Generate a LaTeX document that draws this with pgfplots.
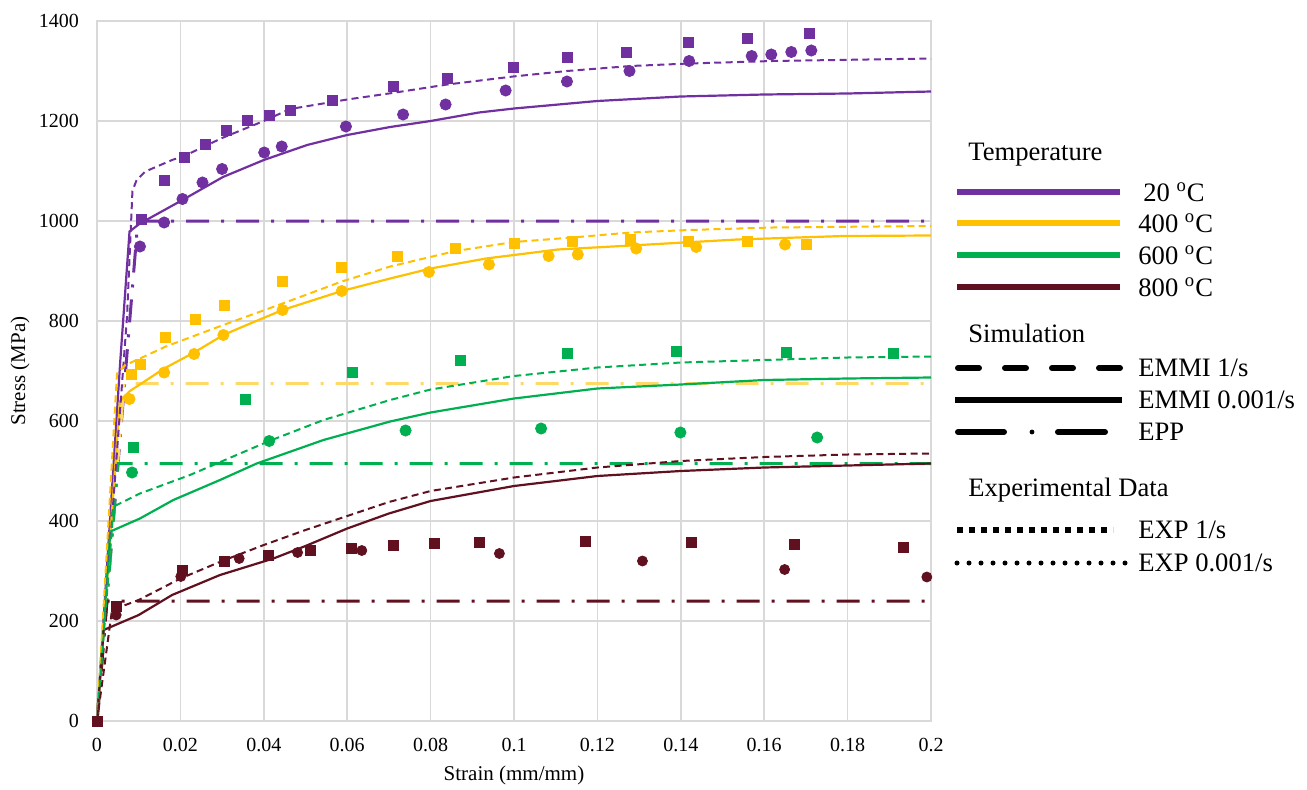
\documentclass[border=0pt]{standalone}
\usepackage{pgfplots}
\pgfplotsset{compat=1.18}
\usepackage{fontspec}
\setmainfont{Liberation Serif}

\definecolor{cpurple}{HTML}{7030A0}
\definecolor{cyellow}{HTML}{FFC000}
\definecolor{cyellowl}{HTML}{FFD966}
\definecolor{cgreen}{HTML}{00B050}
\definecolor{cbrown}{RGB}{96,16,30}
\definecolor{cgrid}{HTML}{D9D9D9}

\pgfplotsset{
  emmifast/.style={no markers, line width=1pt, dash pattern=on 3.5pt off 2.2pt},
  emmislow/.style={no markers, line width=1.1pt},
  epp/.style={no markers, line width=1.5pt, dash pattern=on 11.5pt off 6pt on 1.5pt off 6pt},
  expfast/.style={only marks, mark=square*, mark size=2.5pt},
  expslow/.style={only marks, mark=*, mark size=2.8pt},
}

\begin{document}
\begin{tikzpicture}
\begin{axis}[
  scale only axis,
  width=417pt, height=350pt,
  xmin=0, xmax=0.2, ymin=0, ymax=1400,
  xtick={0,0.02,0.04,0.06,0.08,0.1,0.12,0.14,0.16,0.18,0.2},
  xticklabels={0,0.02,0.04,0.06,0.08,0.1,0.12,0.14,0.16,0.18,0.2},
  ytick={0,200,400,600,800,1000,1200,1400},
  /pgf/number format/1000 sep={},
  /pgf/number format/assume math mode=true,
  scaled x ticks=false,
  grid=major,
  major grid style={draw=cgrid, line width=0.8pt},
  axis line style={draw=cgrid, line width=0.8pt},
  tick style={draw=none},
  ticklabel style={font=\fontsize{10}{12}\selectfont},
  yticklabel style={xshift=-5.5pt},
  xticklabel style={yshift=-5pt},
  xlabel={Strain (mm/mm)},
  ylabel={Stress (MPa)},
  label style={font=\fontsize{10.5}{12}\selectfont},
  xlabel style={at={(axis description cs:0.5,0)}, anchor=center, yshift=-27pt},
  ylabel style={at={(axis description cs:0,0.5)}, anchor=center, rotate=0, yshift=38.5pt},
]
% ---- EPP
\addplot[epp, cpurple] coordinates {(0,0) (0.0098,1000) (0.2,1000)};
\addplot[epp, cyellowl] coordinates {(0,0) (0.0065,675) (0.2,675)};
\addplot[epp, cgreen] coordinates {(0,0) (0.005,515) (0.2,515)};
\addplot[epp, cbrown] coordinates {(0,0) (0.0024,240) (0.2,240)};
% ---- EMMI 0.001/s
\addplot[emmislow, cpurple] coordinates {
  (0,0) (0.0056,722) (0.0078,979) (0.0103,995) (0.0205,1042) (0.0302,1088)
  (0.04,1122) (0.0504,1152) (0.06,1172) (0.0703,1188) (0.08,1200) (0.0916,1217)
  (0.1,1225) (0.12,1240) (0.14,1249) (0.16,1253) (0.18,1255) (0.2,1259)};
\addplot[emmislow, cyellow] coordinates {
  (0,0) (0.0055,640) (0.0064,648) (0.0079,660) (0.0161,705) (0.0233,737)
  (0.0303,772) (0.0359,792) (0.0445,822) (0.0587,860) (0.0703,885) (0.08,905)
  (0.0933,925) (0.1105,943) (0.128,951) (0.1535,963) (0.179,970) (0.2,971)};
\addplot[emmislow, cgreen] coordinates {
  (0,0) (0.0032,379) (0.0103,405) (0.0183,442) (0.0295,482) (0.0383,515)
  (0.0543,562) (0.0703,599) (0.08,617) (0.1,645) (0.12,665) (0.14,673)
  (0.16,682) (0.18,685) (0.2,687)};
\addplot[emmislow, cbrown] coordinates {
  (0,0) (0.0016,182) (0.01,212) (0.018,252) (0.0295,292) (0.0423,325)
  (0.05,350) (0.06,385) (0.07,415) (0.08,440) (0.1,470) (0.12,490)
  (0.14,500) (0.16,507) (0.18,511) (0.2,515)};
% ---- EMMI 1/s
\addplot[emmifast, cpurple] coordinates {
  (0,0) (0.0072,809) (0.0085,1060) (0.0095,1082) (0.0116,1099) (0.018,1122)
  (0.0209,1130) (0.03,1166) (0.04,1200) (0.0463,1224) (0.06,1243) (0.07,1255)
  (0.084,1273) (0.0998,1289) (0.1127,1300) (0.128,1310) (0.142,1315)
  (0.162,1320) (0.2,1325)};
\addplot[emmifast, cyellow] coordinates {
  (0,0) (0.0048,695) (0.0068,712) (0.0103,725) (0.0165,749) (0.0303,792)
  (0.0445,835) (0.0587,879) (0.0703,909) (0.086,940) (0.1,958) (0.114,967)
  (0.128,977) (0.142,982) (0.162,987) (0.2,990)};
\addplot[emmifast, cgreen] coordinates {
  (0,0) (0.004,429) (0.0103,455) (0.0223,492) (0.0413,560) (0.0543,602)
  (0.0703,642) (0.08,663) (0.1,690) (0.12,707) (0.14,717) (0.16,722)
  (0.18,727) (0.2,729)};
\addplot[emmifast, cbrown] coordinates {
  (0,0) (0.0036,222) (0.01,242) (0.02,285) (0.03,320) (0.04,352) (0.05,382)
  (0.06,410) (0.07,438) (0.08,460) (0.1,487) (0.12,507) (0.14,520)
  (0.16,528) (0.18,533) (0.2,535)};
% ---- EXP 1/s
\addplot[expfast, cpurple] coordinates {
  (0.0107,1004) (0.0161,1081) (0.0209,1127) (0.0261,1154) (0.0311,1182)
  (0.0361,1202) (0.0413,1211) (0.0463,1222) (0.0564,1242) (0.0711,1270)
  (0.084,1285) (0.0998,1307) (0.1127,1327) (0.1269,1337) (0.1418,1357)
  (0.156,1365) (0.1709,1375)};
\addplot[expfast, cyellow] coordinates {
  (0.0082,694) (0.0105,714) (0.0165,767) (0.0237,803) (0.0305,831)
  (0.0445,880) (0.0585,907) (0.072,930) (0.086,945) (0.100,955)
  (0.114,960) (0.128,963) (0.1418,960) (0.156,960) (0.170,953)};
\addplot[expfast, cgreen] coordinates {
  (0.0088,547) (0.0355,643) (0.0613,697) (0.0871,722) (0.1129,735)
  (0.1389,739) (0.1654,737) (0.191,735)};
\addplot[expfast, cbrown] coordinates {
  (0,0) (0.0046,229) (0.0205,302) (0.0305,319) (0.0411,332) (0.0511,341)
  (0.0611,345) (0.0711,351) (0.081,355) (0.0917,358) (0.1172,360)
  (0.1426,357) (0.1672,353) (0.1935,348)};
% ---- EXP 0.001/s
\addplot[expslow, cpurple] coordinates {
  (0.0103,949) (0.0161,997) (0.0205,1044) (0.0253,1077) (0.030,1104)
  (0.0401,1137) (0.0443,1149) (0.0597,1189) (0.0734,1213) (0.0836,1233)
  (0.098,1261) (0.1127,1279) (0.1277,1300) (0.142,1320) (0.157,1330)
  (0.1617,1333) (0.1665,1338) (0.1713,1341)};
\addplot[expslow, cyellow] coordinates {
  (0.0078,644) (0.0161,697) (0.0233,734) (0.0303,772) (0.0445,822)
  (0.0587,860) (0.0796,898) (0.094,913) (0.1083,930) (0.1153,933)
  (0.1293,945) (0.1437,948) (0.165,953)};
\addplot[expslow, cgreen] coordinates {
  (0.0084,497) (0.0413,560) (0.074,581) (0.1065,585) (0.1399,577) (0.1727,567)};
\addplot[expslow, cbrown, mark size=2.5pt] coordinates {
  (0.0046,212) (0.0201,289) (0.0341,325) (0.0481,337) (0.0635,341)
  (0.0965,335) (0.1308,320) (0.1649,303) (0.1990,288)};
\end{axis}

% legend, in pixel units of the reference
\begin{scope}[x=0.5pt, y=-0.5pt, shift={(-48.5pt,360.5pt)},
  every node/.style={anchor=west, inner sep=0pt, font=\fontsize{13.3}{15}\selectfont}]
  \node at (968,155) {Temperature};
  \draw[cpurple, line width=3pt] (957,192) -- (1120,192);
  \draw[cyellow, line width=3pt] (957,223) -- (1120,223);
  \draw[cgreen, line width=3pt] (957,255) -- (1120,255);
  \draw[cbrown, line width=3pt] (957,287) -- (1120,287);
  \node at (1143,192) {20 \textsuperscript{o}C};
  \node at (1138,223) {400 \textsuperscript{o}C};
  \node at (1138,255) {600 \textsuperscript{o}C};
  \node at (1138,287) {800 \textsuperscript{o}C};
  \node at (968,333) {Simulation};
  \draw[line width=3pt, line cap=round, dash pattern=on 10.5pt off 13pt] (958,368) -- (1122,368);
  \draw[line width=3pt] (955,400) -- (1122,400);
  \draw[line width=3pt, line cap=round] (958,432) -- (1004,432);
  \fill (1032,432) circle (1.2pt);
  \draw[line width=3pt, line cap=round] (1058,432) -- (1105,432);
  \node at (1138,368) {EMMI 1/s};
  \node at (1138,400) {EMMI 0.001/s};
  \node at (1138,432) {EPP};
  \node at (968,490) {Experimental Data};
  \draw[line width=3pt, dash pattern=on 3pt off 3pt] (957,530) -- (1113,530);
  \draw[line width=2.5pt, line cap=round, dash pattern=on 0pt off 6pt] (957,563) -- (1125,563);
  \node at (1138,530) {EXP 1/s};
  \node at (1138,563) {EXP 0.001/s};
\end{scope}
\pgfresetboundingbox
\path[use as bounding box] (-48.5pt,-34pt) rectangle (605pt,360.5pt);
\end{tikzpicture}
\end{document}
